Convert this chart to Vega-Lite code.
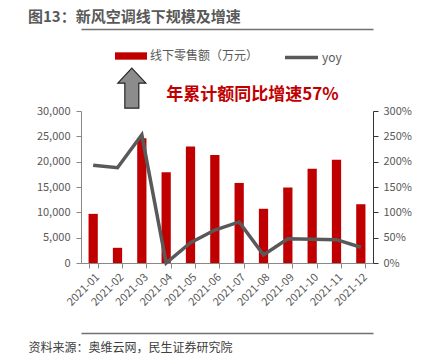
{
  "$schema": "https://vega.github.io/schema/vega-lite/v6.json",
  "width": 292,
  "height": 152,
  "padding": {"left": 28, "top": 10, "right": 0, "bottom": 8},
  "background": "white",
  "config": {
    "view": {"stroke": null},
    "font": "Noto Sans CJK SC",
    "axis": {"grid": false, "labelFont": "Noto Sans CJK SC", "labelFontSize": 11, "labelColor": "#595959", "domainColor": "#888888", "tickColor": "#888888", "tickSize": 5}
  },
  "title": {
    "text": "图13：新风空调线下规模及增速",
    "anchor": "start",
    "frame": "bounds",
    "fontSize": 15,
    "fontWeight": "bold",
    "color": "#595959",
    "font": "Noto Sans CJK SC",
    "offset": 4
  },
  "data": {
    "values": [
      {"month": "2021-01", "sales": 9700, "yoy": 1.93},
      {"month": "2021-02", "sales": 3000, "yoy": 1.88},
      {"month": "2021-03", "sales": 24600, "yoy": 2.53},
      {"month": "2021-04", "sales": 17900, "yoy": 0.0},
      {"month": "2021-05", "sales": 23000, "yoy": 0.40},
      {"month": "2021-06", "sales": 21300, "yoy": 0.65},
      {"month": "2021-07", "sales": 15800, "yoy": 0.81},
      {"month": "2021-08", "sales": 10700, "yoy": 0.16},
      {"month": "2021-09", "sales": 14900, "yoy": 0.48},
      {"month": "2021-10", "sales": 18600, "yoy": 0.47},
      {"month": "2021-11", "sales": 20400, "yoy": 0.46},
      {"month": "2021-12", "sales": 11600, "yoy": 0.31}
    ]
  },
  "layer": [
    {
      "data": {"values": [{"a": 0, "b": 1, "level": 0}]},
      "mark": {"type": "rule", "strokeOpacity": 0},
      "encoding": {
        "x": {"field": "a", "type": "quantitative", "scale": {"domain": [0, 1], "nice": false, "zero": false}, "axis": {"orient": "top", "offset": 82, "labels": false, "ticks": false, "title": null, "grid": false, "domainColor": "#707070", "domainWidth": 1.5}},
        "x2": {"field": "b"},
        "y": {"field": "level", "type": "quantitative", "scale": {"domain": [0, 30000]}, "axis": null}
      }
    },
    {
      "data": {"values": [{"a": 0, "b": 1, "level": 0}]},
      "mark": {"type": "rule", "strokeOpacity": 0},
      "encoding": {
        "x": {"field": "a", "type": "quantitative", "scale": {"domain": [0, 1], "nice": false, "zero": false}, "axis": {"orient": "bottom", "offset": 70, "labels": false, "ticks": false, "title": null, "grid": false, "domainColor": "#707070", "domainWidth": 1.5}},
        "x2": {"field": "b"},
        "y": {"field": "level", "type": "quantitative", "scale": {"domain": [0, 30000]}, "axis": null}
      }
    },
    {
      "encoding": {
        "x": {
          "field": "month",
          "type": "ordinal",
          "scale": {"paddingInner": 0.62, "paddingOuter": 0.31},
          "axis": {
            "title": "资料来源：奥维云网，民生证券研究院",
            "titleFont": "Noto Sans CJK SC",
            "titleFontSize": 12,
            "titleFontWeight": "normal",
            "titleColor": "#404040",
            "titleAnchor": "start",
            "titleAlign": "left",
            "titleBaseline": "middle",
            "titleX": -53,
            "titleY": 84,
            "labelAngle": -45,
            "tickBand": "extent",
            "labelPadding": 3
          }
        }
      },
      "layer": [
        {
          "mark": {"type": "bar"},
          "encoding": {
            "y": {
              "field": "sales",
              "type": "quantitative",
              "scale": {"domain": [0, 30000]},
              "axis": {"title": null, "format": ",.0f", "values": [0, 5000, 10000, 15000, 20000, 25000, 30000], "labelPadding": 6}
            },
            "fill": {
              "datum": "线下零售额（万元）",
              "scale": {"range": ["#C00000"]},
              "legend": {
                "title": null,
                "orient": "none",
                "legendX": 33,
                "legendY": -72,
                "padding": 0,
                "symbolType": "M-1,-0.23H1V0.23H-1Z",
                "symbolSize": 1024,
                "labelFont": "Noto Sans CJK SC",
                "labelFontSize": 12,
                "labelColor": "#595959",
                "labelOffset": 2
              }
            }
          }
        },
        {
          "mark": {"type": "line", "strokeWidth": 3.5},
          "encoding": {
            "y": {
              "field": "yoy",
              "type": "quantitative",
              "scale": {"domain": [0, 3]},
              "axis": {"title": null, "orient": "right", "format": ".0%", "values": [0, 0.5, 1, 1.5, 2, 2.5, 3], "domainColor": "#333333", "tickColor": "#333333", "labelPadding": 5}
            },
            "stroke": {
              "datum": "yoy",
              "scale": {"range": ["#595959"]},
              "legend": {
                "title": null,
                "orient": "none",
                "legendX": 202,
                "legendY": -72,
                "padding": 0,
                "symbolType": "stroke",
                "symbolSize": 1089,
                "symbolStrokeWidth": 3.5,
                "labelFont": "Noto Sans CJK SC",
                "labelFontSize": 12,
                "labelColor": "#595959",
                "labelOffset": 2
              }
            }
          }
        },
        {
          "data": {"values": [{"month": "2021-03", "pos": 34500}]},
          "mark": {"type": "point", "shape": "M0,-1L0.7,-0.25L0.35,-0.25L0.35,1L-0.35,1L-0.35,-0.25L-0.7,-0.25Z", "size": 1600, "filled": true, "fill": "#8C8C8C", "stroke": "#262626", "strokeWidth": 1.2, "opacity": 1, "xOffset": -10},
          "encoding": {
            "y": {"field": "pos", "type": "quantitative", "scale": {"domain": [0, 30000]}, "axis": null}
          }
        },
        {
          "data": {"values": [{"month": "2021-04", "pos": 33200, "label": "年累计额同比增速57%"}]},
          "mark": {"type": "text", "align": "left", "baseline": "middle", "fontSize": 17, "fontWeight": "bold", "color": "#C00000", "font": "Noto Sans CJK SC"},
          "encoding": {
            "y": {"field": "pos", "type": "quantitative", "scale": {"domain": [0, 30000]}, "axis": null},
            "text": {"field": "label"}
          }
        }
      ],
      "resolve": {"scale": {"y": "independent"}}
    }
  ],
  "resolve": {"scale": {"x": "independent", "y": "independent"}}
}
